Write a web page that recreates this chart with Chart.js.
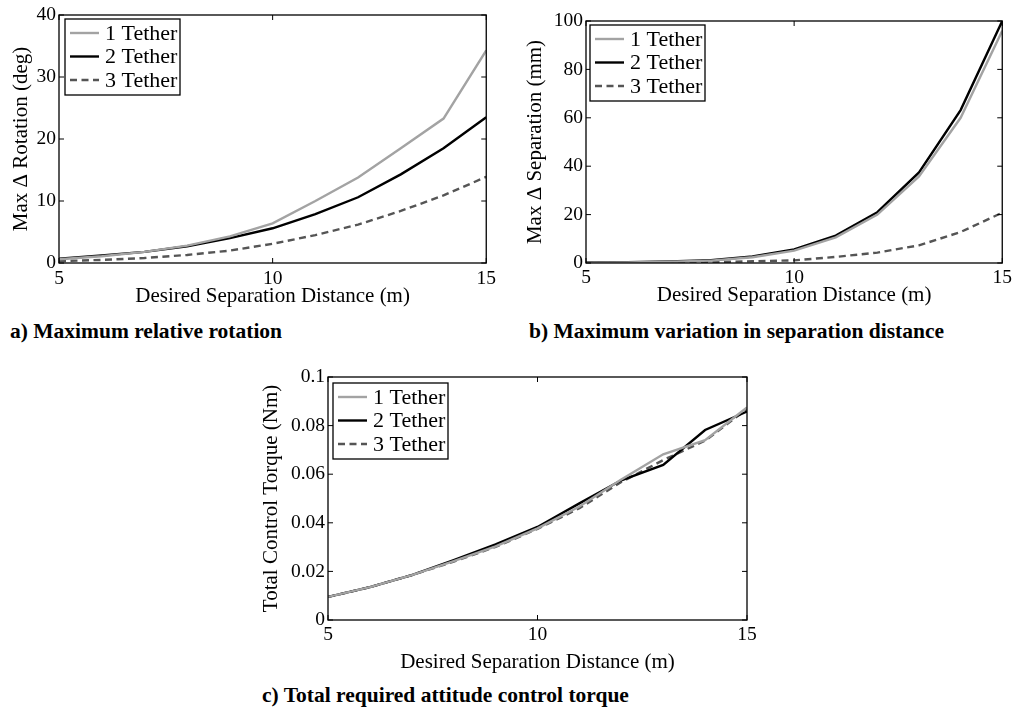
<!DOCTYPE html>
<html>
<head>
<meta charset="utf-8">
<script src="https://cdn.jsdelivr.net/npm/chart.js@4.4.1/dist/chart.umd.min.js"></script>
<style>
  html, body { margin: 0; padding: 0; background: #fff; }
  body { width: 1015px; height: 707px; position: relative; overflow: hidden; font-family: 'Liberation Serif', 'Times New Roman', serif; }
  .box { position: absolute; }
  .cap { position: absolute; font-weight: bold; font-size: 21.5px; line-height: 21px; white-space: nowrap; color: #000; }
</style>
</head>
<body>
<div class="box" id="wa" style="left:0;top:0;width:500px;height:312px"><canvas id="ca"></canvas></div>
<div class="box" id="wb" style="left:500px;top:0;width:515px;height:312px"><canvas id="cb"></canvas></div>
<div class="box" id="wc" style="left:250px;top:360px;width:510px;height:320px"><canvas id="cc"></canvas></div>
<div class="cap" style="left:10px;top:321px">a) Maximum relative rotation</div>
<div class="cap" style="left:529px;top:321px">b) Maximum variation in separation distance</div>
<div class="cap" style="left:262px;top:685px">c) Total required attitude control torque</div>
<script>
// ---- data ----
const distances = [5, 6, 7, 8, 9, 10, 11, 12, 13, 14, 15];
const seriesNames = ['1 Tether', '2 Tether', '3 Tether'];

const rotation1 = [0.6, 1.1, 1.8, 2.8, 4.3, 6.4, 10.0, 13.8, 18.5, 23.3, 34.3];
const rotation2 = [0.7, 1.2, 1.8, 2.7, 4.0, 5.6, 7.9, 10.6, 14.3, 18.5, 23.5];
const rotation3 = [0.3, 0.5, 0.8, 1.3, 2.0, 3.1, 4.5, 6.2, 8.4, 10.9, 13.9];

const separation1 = [0.1, 0.2, 0.5, 1.0, 2.4, 5.1, 10.6, 20.0, 35.8, 60.0, 96.0];
const separation2 = [0.2, 0.3, 0.6, 1.2, 2.7, 5.6, 11.3, 21.0, 37.4, 63.2, 100.0];
const separation3 = [0.05, 0.1, 0.2, 0.4, 0.7, 1.1, 2.5, 4.3, 7.3, 12.8, 20.8];

const torque1 = [0.0095, 0.0135, 0.0185, 0.0242, 0.0303, 0.0377, 0.0467, 0.0578, 0.0682, 0.0740, 0.0875];
const torque2 = [0.0095, 0.0135, 0.0185, 0.0246, 0.0311, 0.0383, 0.0480, 0.0575, 0.0638, 0.0782, 0.0858];
const torque3 = [0.0095, 0.0135, 0.0185, 0.0240, 0.0301, 0.0375, 0.0460, 0.0568, 0.0658, 0.0738, 0.0868];

const xTickLabels = ['5', '10', '15'];
const yTicksA = ['0', '10', '20', '30', '40'];
const yTicksB = ['0', '20', '40', '60', '80', '100'];
const yTicksC = ['0', '0.02', '0.04', '0.06', '0.08', '0.1'];

// ---- styles ----
const SERIF = "'Liberation Serif', 'Times New Roman', serif";
Chart.defaults.font.family = SERIF;
Chart.defaults.color = '#000';
const lineStyles = [
  { borderColor: '#a3a3a3', borderWidth: 2.4, borderDash: [] },
  { borderColor: '#000000', borderWidth: 2.4, borderDash: [] },
  { borderColor: '#555555', borderWidth: 2.4, borderDash: [7, 4.5] }
];

const boxPlugin = {
  id: 'matlabBox',
  afterDatasetsDraw(chart) {
    const { ctx, chartArea: a, scales: { x, y } } = chart;
    ctx.save();
    ctx.strokeStyle = '#000';
    ctx.lineWidth = 1.3;
    ctx.setLineDash([]);
    ctx.strokeRect(a.left, a.top, a.right - a.left, a.bottom - a.top);
    const L = 5;
    ctx.lineWidth = 1;
    ctx.beginPath();
    x.ticks.forEach(t => {
      const p = x.getPixelForValue(t.value);
      ctx.moveTo(p, a.bottom); ctx.lineTo(p, a.bottom - L);
      ctx.moveTo(p, a.top); ctx.lineTo(p, a.top + L);
    });
    y.ticks.forEach(t => {
      const p = y.getPixelForValue(t.value);
      ctx.moveTo(a.left, p); ctx.lineTo(a.left + L, p);
      ctx.moveTo(a.right, p); ctx.lineTo(a.right - L, p);
    });
    ctx.stroke();
    ctx.restore();
  },
  afterDraw(chart) {
    const { ctx, chartArea: a } = chart;
    const o = chart.options.plugins.matlabBox || {};
    const bx = a.left + (o.dx || 5), by = a.top + (o.dy || 4);
    const bw = 115, bh = 76;
    ctx.save();
    ctx.fillStyle = '#fff';
    ctx.fillRect(bx, by, bw, bh);
    ctx.strokeStyle = '#000';
    ctx.lineWidth = 1.3;
    ctx.setLineDash([]);
    ctx.strokeRect(bx, by, bw, bh);
    ctx.font = '22px ' + SERIF;
    ctx.textBaseline = 'middle';
    ctx.textAlign = 'left';
    chart.data.datasets.forEach((ds, i) => {
      const cy = by + 14 + i * 23.5;
      ctx.strokeStyle = ds.borderColor;
      ctx.lineWidth = ds.borderWidth;
      ctx.setLineDash(ds.borderDash || []);
      ctx.beginPath();
      ctx.moveTo(bx + 5, cy); ctx.lineTo(bx + 34, cy);
      ctx.stroke();
      ctx.setLineDash([]);
      ctx.fillStyle = '#000';
      ctx.fillText(ds.label, bx + 40, cy + 1);
    });
    ctx.restore();
  }
};

function makeChart(id, seriesList, yMax, yStep, yLabels, yTitle, cfg) {
  const datasets = seriesList.map((vals, i) => Object.assign({
    label: seriesNames[i],
    data: distances.map((d, k) => ({ x: d, y: vals[k] })),
    pointRadius: 0,
    tension: 0,
    fill: false
  }, lineStyles[i]));
  return new Chart(document.getElementById(id), {
    type: 'line',
    data: { datasets },
    plugins: [boxPlugin],
    options: {
      responsive: true,
      maintainAspectRatio: false,
      animation: false,
      events: [],
      layout: { padding: { left: 0, top: cfg.top, right: cfg.right, bottom: 0 } },
      plugins: {
        legend: { display: false },
        tooltip: { enabled: false },
        matlabBox: { dx: cfg.dx, dy: cfg.dy }
      },
      scales: {
        x: {
          type: 'linear', min: 5, max: 15,
          border: { display: false },
          grid: { display: false, drawTicks: false },
          ticks: {
            stepSize: 5, padding: cfg.xTickPad, maxRotation: 0,
            font: { size: 19.5 },
            callback: (v, i) => xTickLabels[i]
          },
          title: { display: true, text: 'Desired Separation Distance (m)', font: { size: 21 }, padding: { top: 0, bottom: cfg.xTitlePad } },
          afterFit: s => { s.height = cfg.xH; }
        },
        y: {
          min: 0, max: yMax,
          border: { display: false },
          grid: { display: false, drawTicks: false },
          ticks: {
            stepSize: yStep, padding: 3,
            font: { size: 19.5 },
            callback: (v, i) => yLabels[i]
          },
          title: { display: true, text: yTitle, font: { size: 21 }, padding: { top: cfg.yTitlePad, bottom: 0 } },
          afterFit: s => { s.width = cfg.yW; }
        }
      }
    }
  });
}

makeChart('ca', [rotation1, rotation2, rotation3], 40, 10, yTicksA, 'Max \u0394 Rotation (deg)',
  { top: 15, right: 11, xH: 49, yW: 59, xTickPad: 4, xTitlePad: 3, yTitlePad: 9, dx: 6, dy: 4 });
makeChart('cb', [separation1, separation2, separation3], 100, 20, yTicksB, 'Max \u0394 Separation (mm)',
  { top: 21, right: 10, xH: 49, yW: 86, xTickPad: 3, xTitlePad: 4, yTitlePad: 23, dx: 4, dy: 4 });
makeChart('cc', [torque1, torque2, torque3], 0.1, 0.02, yTicksC, 'Total Control Torque (Nm)',
  { top: 17, right: 13, xH: 60, yW: 78, xTickPad: 3, xTitlePad: 5, yTitlePad: 9, dx: 5, dy: 6 });
</script>
</body>
</html>
